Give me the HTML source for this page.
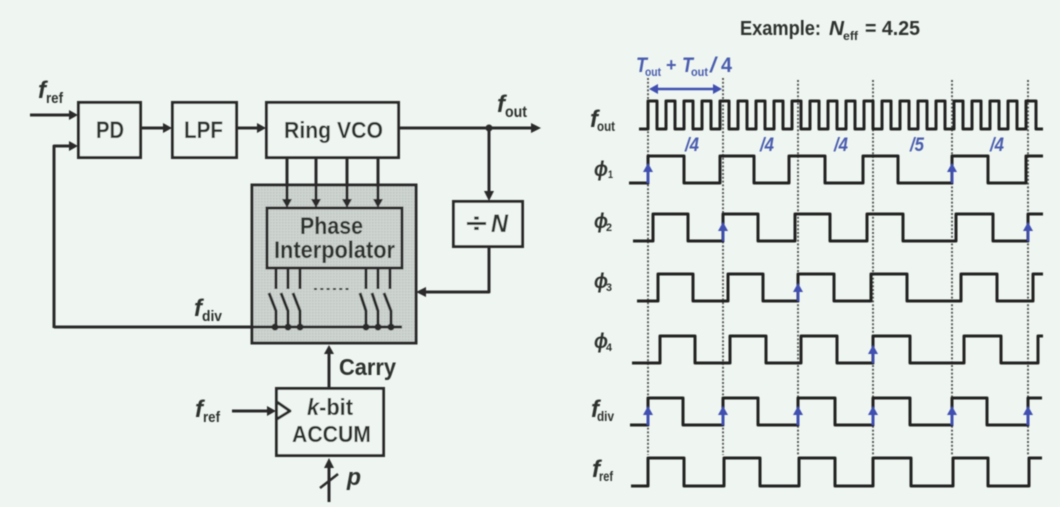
<!DOCTYPE html>
<html><head><meta charset="utf-8"><style>
html,body{margin:0;padding:0;background:#eff6f1;width:1060px;height:507px;overflow:hidden}
svg{display:block}
text{font-family:"Liberation Sans","DejaVu Sans",sans-serif;font-weight:bold;fill:#2f302f}
.i{font-style:italic}
.b{fill:#4a5cae}
.s{font-size:13px}
</style></head><body>
<svg width="1060" height="507" viewBox="0 0 1060 507" xmlns="http://www.w3.org/2000/svg">
<defs>
<filter id="bl" x="-5%" y="-5%" width="110%" height="110%"><feGaussianBlur stdDeviation="0.6"/></filter>
<pattern id="g" width="3" height="3" patternUnits="userSpaceOnUse"><rect width="3" height="3" fill="#ced4d0"/><rect width="1.5" height="1.5" fill="#bfc5c1"/></pattern>
</defs>
<rect width="1060" height="507" fill="#eff6f1"/>
<g filter="url(#bl)">
<!-- Left block diagram -->
<rect x="252" y="185" width="164" height="158" fill="url(#g)" stroke="#2a2b2a" stroke-width="3"/>
<rect x="267" y="208" width="135" height="60" fill="url(#g)" stroke="#2a2b2a" stroke-width="3"/>
<g fill="#eff6f1" stroke="#2a2b2a" stroke-width="3">
<rect x="78.500" y="102.500" width="62" height="55"/>
<rect x="172.500" y="102.500" width="64" height="55"/>
<rect x="266.500" y="102.500" width="132" height="55"/>
<rect x="453.500" y="201.500" width="69" height="45"/>
<rect x="276.500" y="388.500" width="107" height="67"/>
</g>
<g fill="none" stroke="#2a2b2a" stroke-width="3" stroke-linejoin="round">
<path d="M30 115H72"/><path d="M54 328V146H72"/><path d="M141 128H166"/><path d="M237 128H260"/>
<path d="M399 128H534"/><path d="M489 128V194"/><path d="M489 246V292H424"/>
<path d="M287 158V201M316 158V201M347 158V201M378 158V201"/>
<path d="M276 268V289M288 268V289M300 268V289M366 268V289M378 268V289M390 268V289"/>
<path d="M54 327H402"/>
<path d="M269 293L276 311V327M281 293L288 311V327M293 293L300 311V327M360 293L366 311V327M372 293L378 311V327M384 293L391 311V327"/>
<path d="M329 388V352"/><path d="M232 411H268"/><path d="M277 402L290 411L277 419"/>
<path d="M329 502V466"/><path d="M320 488L338 474" stroke-width="2.500"/>
</g>
<path d="M314 289H350" stroke="#2a2b2a" stroke-width="2" stroke-dasharray="3 3.300"/>
<g fill="#2a2b2a">
<path d="M78 115L69 110V120Z"/><path d="M78 146L69 141V151Z"/><path d="M172 128L163 123V133Z"/><path d="M266 128L257 123V133Z"/><path d="M541 128L531 123V133Z"/>
<path d="M489 201L484 191H494Z"/><path d="M416 292L426 287V297Z"/>
<path d="M287 208L282 199H292Z"/><path d="M316 208L311 199H321Z"/><path d="M347 208L342 199H352Z"/><path d="M378 208L373 199H383Z"/>
<path d="M329 345L324 354H334Z"/><path d="M276 411L267 406V416Z"/><path d="M329 458L324 468H334Z"/>
<circle cx="489" cy="128" r="3.500"/>
<circle cx="275" cy="327" r="3.500"/><circle cx="288" cy="327" r="3.500"/><circle cx="300" cy="327" r="3.500"/><circle cx="366" cy="327" r="3.500"/><circle cx="378" cy="327" r="3.500"/><circle cx="391" cy="327" r="3.500"/>
</g>
<!-- Left labels -->
<text x="38" y="98" class="i" font-size="24">f</text><text x="46" y="103" font-size="15" textLength="17" lengthAdjust="spacingAndGlyphs">ref</text>
<text x="96" y="138" font-size="24" textLength="28" lengthAdjust="spacingAndGlyphs">PD</text>
<text x="184" y="138" font-size="24" textLength="39" lengthAdjust="spacingAndGlyphs">LPF</text>
<text x="284" y="138" font-size="23" textLength="99" lengthAdjust="spacingAndGlyphs">Ring VCO</text>
<text x="497" y="112" class="i" font-size="24">f</text><text x="505" y="117" font-size="16" textLength="22" lengthAdjust="spacingAndGlyphs">out</text>
<text x="300" y="234" font-size="24" textLength="63" lengthAdjust="spacingAndGlyphs">Phase</text>
<text x="274" y="258" font-size="24" textLength="121" lengthAdjust="spacingAndGlyphs">Interpolator</text>
<text x="466" y="232" font-size="27" textLength="21" lengthAdjust="spacingAndGlyphs">÷</text><text x="491" y="232" class="i" font-size="25" textLength="17" lengthAdjust="spacingAndGlyphs">N</text>
<text x="194" y="316" class="i" font-size="24">f</text><text x="202" y="321" font-size="15" textLength="20" lengthAdjust="spacingAndGlyphs">div</text>
<text x="339" y="375" font-size="23" textLength="57" lengthAdjust="spacingAndGlyphs">Carry</text>
<text x="195" y="417" class="i" font-size="24">f</text><text x="203" y="422" font-size="15" textLength="17" lengthAdjust="spacingAndGlyphs">ref</text>
<text x="307" y="415" font-size="23" textLength="46" lengthAdjust="spacingAndGlyphs"><tspan class="i">k</tspan>-bit</text>
<text x="292" y="442" font-size="23" textLength="79" lengthAdjust="spacingAndGlyphs">ACCUM</text>
<text x="347" y="485" class="i" font-size="24" textLength="14" lengthAdjust="spacingAndGlyphs">p</text>
<!-- Dotted guides -->
<path d="M648 78V455M723 78V455M798 80V455M873 80V455M952 80V455M1028 80V455" stroke="#4b4d4c" stroke-width="1.800" stroke-dasharray="2 1.800" fill="none"/>
<!-- Waveforms -->
<g fill="none" stroke="#232423" stroke-width="3" stroke-linejoin="round">
<path d="M639 129H648V101h9v28h9v-28h9v28h9v-28h9v28h9v-28h9v28h9v-28h9v28h9v-28h9v28h9v-28h9v28h9v-28h9v28h9v-28h9v28h9v-28h9v28h9v-28h9v28h9v-28h9v28h9v-28h9v28h9v-28h9v28h9v-28h9v28h9v-28h9v28h9v-28h9v28h9v-28h9v28h9v-28h9v28h9v-28h9v28h9v-28h9v28h9v-28h10v28H1043"/>
<path d="M629 183H648V156H684V183H720V156H754V183H789V156H825V183H863V156H898V183H952V156H988V183H1026V156H1043"/>
<path d="M633 241H653V214H688V241H723V214H758V241H795V214H830V241H867V214H903V241H956V214H993V241H1028V214H1043"/>
<path d="M637 301H658V274H693V301H728V274H763V301H798V274H834V301H871V274H907V301H961V274H997V301H1033V274H1043"/>
<path d="M632 363H660V336H695V363H730V336H766V363H801V336H837V363H873V336H910V363H964V336H1001V363H1038V336H1043"/>
<path d="M630 425H648V398H683V425H723V398H758V425H798V398H835V425H873V398H910V425H952V398H987V425H1028V398H1042"/>
<path d="M631 486H648V458H684V486H724V458H760V486H799V458H835V486H873V458H911V486H953V458H988V486H1029V458H1042"/>
</g>
<!-- Blue arrows -->
<g fill="#3f50b0" stroke="none">
<path d="M646.500 183V172H643L648 163L653 172H649.500V183Z"/>
<path d="M951 183V172H947L952 163L957 172H953.500V183Z"/>
<path d="M722 241V231H718L723 222L728 231H724.500V241Z"/>
<path d="M1027 241V231H1023L1028 222L1033 231H1029.500V241Z"/>
<path d="M797 301V292H793L798 283L803 292H799.500V301Z"/>
<path d="M872 363V354H868L873 345L878 354H874.500V363Z"/>
<path d="M646.500 425V415H643L648 406L653 415H649.500V425Z"/>
<path d="M721.500 425V415H718L723 406L728 415H724.500V425Z"/>
<path d="M796.500 425V415H793L798 406L803 415H799.500V425Z"/>
<path d="M871.500 425V415H868L873 406L878 415H874.500V425Z"/>
<path d="M950.500 425V415H947L952 406L957 415H953.500V425Z"/>
<path d="M1026.500 425V415H1023L1028 406L1033 415H1029.500V425Z"/>
<path d="M649 89L658 84V87.800H713V84L722 89L713 94V90.200H658V94Z"/>
</g>
<!-- Right labels -->
<text x="740" y="35" font-size="20" textLength="81" lengthAdjust="spacingAndGlyphs">Example:</text>
<text x="829" y="35" class="i" font-size="20" textLength="15" lengthAdjust="spacingAndGlyphs">N</text>
<text x="843" y="40" font-size="12" textLength="15" lengthAdjust="spacingAndGlyphs">eff</text>
<text x="865" y="35" font-size="20" textLength="55" lengthAdjust="spacingAndGlyphs">= 4.25</text>
<text x="636" y="72" class="i b" font-size="21" textLength="11" lengthAdjust="spacingAndGlyphs">T</text><text x="645" y="76" class="b" font-size="12" textLength="16" lengthAdjust="spacingAndGlyphs">out</text>
<text x="666" y="71" class="b" font-size="18">+</text>
<text x="682" y="72" class="i b" font-size="21" textLength="11" lengthAdjust="spacingAndGlyphs">T</text><text x="691" y="76" class="b" font-size="12" textLength="17" lengthAdjust="spacingAndGlyphs">out</text>
<text x="710" y="72" class="i b" font-size="21" textLength="6" lengthAdjust="spacingAndGlyphs">/</text><text x="721" y="72" class="b" font-size="21" textLength="11" lengthAdjust="spacingAndGlyphs">4</text>
<text x="685" y="151" class="i b" font-size="19" textLength="14" lengthAdjust="spacingAndGlyphs">/4</text><text x="760" y="151" class="i b" font-size="19" textLength="14" lengthAdjust="spacingAndGlyphs">/4</text><text x="834" y="151" class="i b" font-size="19" textLength="14" lengthAdjust="spacingAndGlyphs">/4</text><text x="910" y="151" class="i b" font-size="19" textLength="14" lengthAdjust="spacingAndGlyphs">/5</text><text x="990" y="151" class="i b" font-size="19" textLength="14" lengthAdjust="spacingAndGlyphs">/4</text>
<text x="590" y="127" class="i" font-size="24">f</text><text x="597" y="131" font-size="14" textLength="18" lengthAdjust="spacingAndGlyphs">out</text>
<text x="594" y="176" class="i" font-size="21" textLength="14" lengthAdjust="spacingAndGlyphs">ϕ</text><text x="608" y="178" font-size="11" textLength="5" lengthAdjust="spacingAndGlyphs">1</text>
<text x="594" y="228" class="i" font-size="21" textLength="14" lengthAdjust="spacingAndGlyphs">ϕ</text><text x="606" y="231" font-size="11" textLength="6" lengthAdjust="spacingAndGlyphs">2</text>
<text x="594" y="288" class="i" font-size="21" textLength="14" lengthAdjust="spacingAndGlyphs">ϕ</text><text x="606" y="291" font-size="11" textLength="6" lengthAdjust="spacingAndGlyphs">3</text>
<text x="594" y="348" class="i" font-size="21" textLength="14" lengthAdjust="spacingAndGlyphs">ϕ</text><text x="606" y="351" font-size="11" textLength="6" lengthAdjust="spacingAndGlyphs">4</text>
<text x="591" y="417" class="i" font-size="24">f</text><text x="597" y="421" font-size="14" textLength="17" lengthAdjust="spacingAndGlyphs">div</text>
<text x="592" y="477" class="i" font-size="24">f</text><text x="599" y="481" font-size="14" textLength="14" lengthAdjust="spacingAndGlyphs">ref</text>
</g>
</svg>
</body></html>
